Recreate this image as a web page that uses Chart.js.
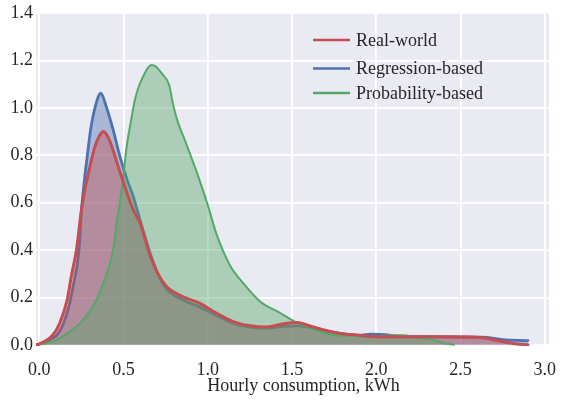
<!DOCTYPE html>
<html>
<head>
<meta charset="utf-8">
<script src="https://cdn.jsdelivr.net/npm/chart.js@4"></script>
<style>
  html, body { margin: 0; padding: 0; background: #ffffff; }
  canvas { display: block; }
</style>
</head>
<body>
<canvas id="c" width="561" height="400"></canvas>
<script>
// ---- Data ----
const seriesLabels = ["Real-world", "Regression-based", "Probability-based"];

const realX = [-0.02, 0.0, 0.03, 0.08, 0.12, 0.165, 0.19, 0.22, 0.25, 0.27, 0.30, 0.33, 0.355, 0.38, 0.405, 0.43, 0.468, 0.507, 0.557, 0.60, 0.656, 0.70, 0.755, 0.85, 0.95, 1.05, 1.15, 1.25, 1.35, 1.45, 1.53, 1.62, 1.77, 1.9, 2.0, 2.14, 2.3, 2.44, 2.63, 2.72, 2.81, 2.9];
const realY = [0.0, 0.004, 0.014, 0.042, 0.09, 0.19, 0.29, 0.40, 0.57, 0.654, 0.752, 0.837, 0.88, 0.90, 0.88, 0.837, 0.752, 0.668, 0.57, 0.51, 0.38, 0.305, 0.246, 0.204, 0.176, 0.134, 0.098, 0.08, 0.075, 0.089, 0.094, 0.076, 0.05, 0.04, 0.034, 0.034, 0.034, 0.034, 0.03, 0.018, 0.006, 0.0];

const regX = [-0.02, 0.0, 0.06, 0.12, 0.17, 0.20, 0.235, 0.25, 0.265, 0.284, 0.304, 0.33, 0.365, 0.399, 0.438, 0.478, 0.521, 0.557, 0.596, 0.656, 0.715, 0.755, 0.85, 0.95, 1.05, 1.15, 1.25, 1.35, 1.45, 1.53, 1.62, 1.77, 1.9, 1.97, 2.05, 2.15, 2.3, 2.44, 2.63, 2.75, 2.9];
const regY = [0.0, 0.003, 0.02, 0.056, 0.148, 0.246, 0.40, 0.57, 0.68, 0.795, 0.907, 1.0, 1.062, 1.0, 0.907, 0.795, 0.696, 0.626, 0.53, 0.39, 0.28, 0.235, 0.19, 0.16, 0.125, 0.09, 0.075, 0.07, 0.078, 0.08, 0.072, 0.05, 0.04, 0.045, 0.043, 0.035, 0.034, 0.033, 0.032, 0.022, 0.018];

const probX = [-0.02, 0.0, 0.04, 0.10, 0.18, 0.26, 0.34, 0.379, 0.438, 0.46, 0.48, 0.495, 0.517, 0.547, 0.567, 0.59, 0.616, 0.645, 0.666, 0.69, 0.725, 0.77, 0.794, 0.818, 0.874, 0.933, 0.996, 1.05, 1.13, 1.21, 1.31, 1.43, 1.516, 1.6, 1.72, 1.85, 1.98, 2.1, 2.15, 2.25, 2.33, 2.4, 2.46];
const probY = [0.0, 0.002, 0.007, 0.02, 0.056, 0.105, 0.19, 0.26, 0.40, 0.52, 0.61, 0.69, 0.83, 0.957, 1.034, 1.09, 1.132, 1.17, 1.181, 1.175, 1.146, 1.097, 1.013, 0.949, 0.844, 0.731, 0.598, 0.47, 0.337, 0.26, 0.183, 0.134, 0.098, 0.075, 0.045, 0.037, 0.034, 0.04, 0.04, 0.03, 0.021, 0.008, 0.0];

const xTickValues = [0.0, 0.5, 1.0, 1.5, 2.0, 2.5, 3.0];
const yTickValues = [0.0, 0.2, 0.4, 0.6, 0.8, 1.0, 1.2, 1.4];
const xAxisTitle = "Hourly consumption, kWh";

// ---- Styling ----
const colors = ["#C44E52", "#4C72B0", "#55A868"];
const fills = ["rgba(196,78,82,0.42)", "rgba(76,114,176,0.42)", "rgba(85,168,104,0.42)"];
const widths = [3, 2.8, 2];
const FONT = "'Liberation Serif', 'DejaVu Serif', serif";
const TEXT = "#262626";

function pts(xs, ys) { return xs.map((x, i) => ({ x: x, y: ys[i] })); }

const seriesData = [pts(realX, realY), pts(regX, regY), pts(probX, probY)];

// Draw order (higher "order" is painted first):
// blue fill+line, red fill, green fill, green line, red line on top.
function ds(i, opts) {
  return Object.assign({
    label: seriesLabels[i],
    data: seriesData[i],
    borderColor: colors[i],
    backgroundColor: fills[i],
    borderWidth: widths[i],
    pointRadius: 0,
    pointHoverRadius: 0,
    cubicInterpolationMode: 'monotone',
    borderJoinStyle: 'round',
    borderCapStyle: 'round'
  }, opts);
}

const datasets = [
  ds(0, { fill: false, backgroundColor: 'rgba(0,0,0,0)', order: 1, legendItem: true }),
  ds(1, { fill: 'origin', order: 6, legendItem: true }),
  ds(2, { fill: false, backgroundColor: 'rgba(0,0,0,0)', order: 2, legendItem: true }),
  ds(0, { fill: 'origin', borderWidth: 0, borderColor: 'rgba(0,0,0,0)', order: 5 }),
  ds(2, { fill: 'origin', borderWidth: 0, borderColor: 'rgba(0,0,0,0)', order: 4 })
];

const bgPlugin = {
  id: 'bg',
  beforeDraw(chart) {
    const { ctx, chartArea: a } = chart;
    ctx.save();
    ctx.fillStyle = '#EAEAF2';
    ctx.fillRect(a.left, a.top, a.right - a.left, a.bottom - a.top);
    ctx.restore();
  }
};

const legendPlugin = {
  id: 'customLegend',
  afterDraw(chart) {
    const { ctx } = chart;
    const rows = [40, 68.5, 93];
    ctx.save();
    ctx.font = "18px " + FONT;
    ctx.textBaseline = 'middle';
    ctx.textAlign = 'left';
    const items = chart.data.datasets.filter(d => d.legendItem);
    items.forEach((d, i) => {
      const y = rows[i];
      ctx.strokeStyle = d.borderColor;
      ctx.lineWidth = 2.5;
      ctx.beginPath();
      ctx.moveTo(313, y);
      ctx.lineTo(350, y);
      ctx.stroke();
      ctx.fillStyle = TEXT;
      ctx.fillText(d.label, 356, y + 1);
    });
    // x-axis title
    ctx.textAlign = 'center';
    ctx.textBaseline = 'alphabetic';
    ctx.fillText(xAxisTitle, 303.5, 391);
    ctx.restore();
  }
};

new Chart(document.getElementById('c'), {
  type: 'line',
  data: { datasets: datasets },
  plugins: [bgPlugin, legendPlugin],
  options: {
    responsive: false,
    animation: false,
    events: [],
    layout: { padding: { top: 13, right: 12, left: 0, bottom: 0 } },
    plugins: { legend: { display: false }, tooltip: { enabled: false }, title: { display: false } },
    scales: {
      x: {
        type: 'linear',
        min: -0.02,
        max: 3.025,
        afterBuildTicks(scale) { scale.ticks = xTickValues.map(v => ({ value: v })); },
        afterFit(scale) { scale.height = 54; scale.paddingLeft = 0; scale.paddingRight = 0; },
        border: { display: false },
        grid: { color: '#ffffff', lineWidth: 1.8, drawTicks: false },
        ticks: {
          color: TEXT,
          font: { family: FONT, size: 18 },
          padding: 13,
          maxRotation: 0,
          callback: v => Number(v).toFixed(1)
        }
      },
      y: {
        type: 'linear',
        min: -0.005,
        max: 1.4,
        afterBuildTicks(scale) { scale.ticks = yTickValues.map(v => ({ value: v })); },
        afterFit(scale) { scale.width = 36; scale.paddingTop = 0; scale.paddingBottom = 0; },
        border: { display: false },
        grid: { color: '#ffffff', lineWidth: 1.8, drawTicks: false },
        ticks: {
          color: TEXT,
          font: { family: FONT, size: 18 },
          padding: 3,
          callback: v => Number(v).toFixed(1)
        }
      }
    }
  }
});
</script>
</body>
</html>
